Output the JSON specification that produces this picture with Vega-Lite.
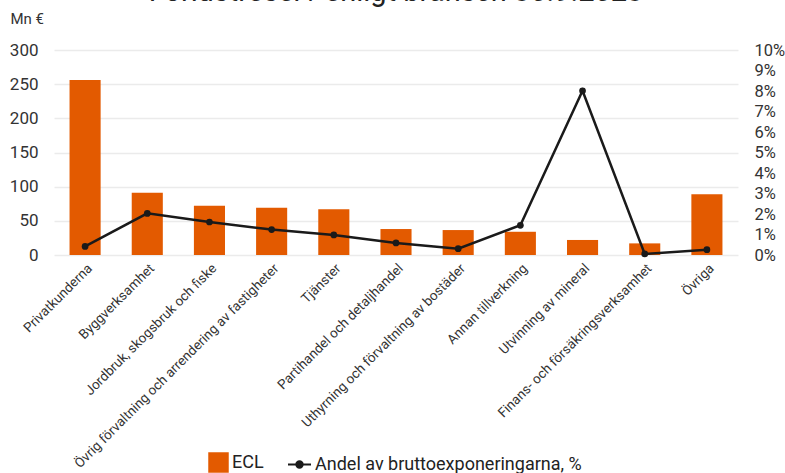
{
  "$schema": "https://vega.github.io/schema/vega-lite/v6.json",
  "width": 684,
  "height": 205,
  "autosize": {"type": "none"},
  "padding": {"left": 54, "top": 50, "right": 47, "bottom": 218},
  "config": {
    "font": "Roboto",
    "view": {"stroke": null},
    "legend": {"labelFontSize": 18, "labelColor": "#222222", "labelFont": "Roboto", "labelLimit": 500}
  },
  "title": {
    "text": "Förlustreserv enligt bransch 30.9.2023",
    "fontSize": 29,
    "fontWeight": "normal",
    "color": "#222222",
    "baseline": "alphabetic",
    "offset": 1,
    "dy": 20,
    "anchor": "middle",
    "frame": "group"
  },
  "data": {
    "values": [
      {"bransch": "Privatkunderna", "ecl": 256, "andel": 0.0042},
      {"bransch": "Byggverksamhet", "ecl": 91, "andel": 0.0203},
      {"bransch": "Jordbruk, skogsbruk och fiske", "ecl": 72, "andel": 0.0161},
      {"bransch": "Övrig förvaltning och arrendering av fastigheter", "ecl": 69, "andel": 0.0124},
      {"bransch": "Tjänster", "ecl": 67, "andel": 0.0098},
      {"bransch": "Partihandel och detaljhandel", "ecl": 38, "andel": 0.0059},
      {"bransch": "Uthyrning och förvaltning av bostäder", "ecl": 36.5, "andel": 0.0031},
      {"bransch": "Annan tillverkning", "ecl": 34, "andel": 0.0145},
      {"bransch": "Utvinning av mineral", "ecl": 22, "andel": 0.0801},
      {"bransch": "Finans- och försäkringsverksamhet", "ecl": 17, "andel": 0.0005},
      {"bransch": "Övriga", "ecl": 89, "andel": 0.0026}
    ]
  },
  "encoding": {
    "x": {
      "field": "bransch",
      "type": "nominal",
      "sort": null,
      "scale": {"paddingInner": 0.5, "paddingOuter": 0.25},
      "axis": {
        "title": null,
        "labelAngle": -45,
        "labelFontSize": 13.5,
        "labelColor": "#333333",
        "labelPadding": 6,
        "domain": false,
        "ticks": false,
        "labelLimit": 400
      }
    }
  },
  "layer": [
    {
      "mark": {"type": "bar"},
      "encoding": {
        "y": {
          "field": "ecl",
          "type": "quantitative",
          "scale": {"domain": [0, 300], "nice": false},
          "axis": {
            "values": [0, 50, 100, 150, 200, 250, 300],
            "title": "Mn €",
            "titleAngle": 0,
            "titleAlign": "left",
            "titleBaseline": "middle",
            "titleX": -44,
            "titleY": -32,
            "titleFontSize": 15,
            "titleFontWeight": "normal",
            "titleColor": "#333333",
            "labelFontSize": 17,
            "labelColor": "#333333",
            "labelPadding": 16,
            "domain": false,
            "ticks": false,
            "gridColor": "#ebebeb",
            "gridWidth": 1.5
          }
        },
        "color": {
          "datum": "ECL",
          "scale": {"domain": ["ECL"], "range": ["#e35a00"]},
          "legend": {
            "title": null,
            "orient": "none",
            "legendX": 154,
            "legendY": 402,
            "symbolType": "square",
            "symbolSize": 420,
            "symbolStrokeWidth": 0,
            "labelOffset": 3
          }
        }
      }
    },
    {
      "encoding": {
        "y": {
          "field": "andel",
          "type": "quantitative",
          "scale": {"domain": [0, 0.1], "nice": false},
          "axis": {
            "orient": "right",
            "values": [0, 0.01, 0.02, 0.03, 0.04, 0.05, 0.06, 0.07, 0.08, 0.09, 0.1],
            "format": ".0%",
            "title": null,
            "labelFontSize": 16.5,
            "labelColor": "#333333",
            "labelPadding": 16,
            "domain": false,
            "ticks": false,
            "grid": false
          }
        }
      },
      "layer": [
        {
          "mark": {"type": "line", "strokeWidth": 2.5, "color": "#1a1a1a"},
          "encoding": {
            "stroke": {
              "datum": "Andel av bruttoexponeringarna, %",
              "scale": {"domain": ["Andel av bruttoexponeringarna, %"], "range": ["#1a1a1a"]},
              "legend": {
                "title": null,
                "orient": "none",
                "legendX": 233,
                "legendY": 402,
                "symbolType": "M-1,0H1M-0.28,0A0.28,0.28 0 1,0 0.28,0A0.28,0.28 0 1,0 -0.28,0Z",
                "symbolSize": 529,
                "symbolStrokeWidth": 2,
                "symbolFillColor": "#1a1a1a",
                "symbolStrokeColor": "#1a1a1a",
                "labelOffset": 3
              }
            }
          }
        },
        {
          "mark": {"type": "point", "filled": true, "size": 45, "color": "#1a1a1a", "opacity": 1},
          "encoding": {}
        }
      ]
    }
  ],
  "resolve": {"scale": {"y": "independent"}}
}
